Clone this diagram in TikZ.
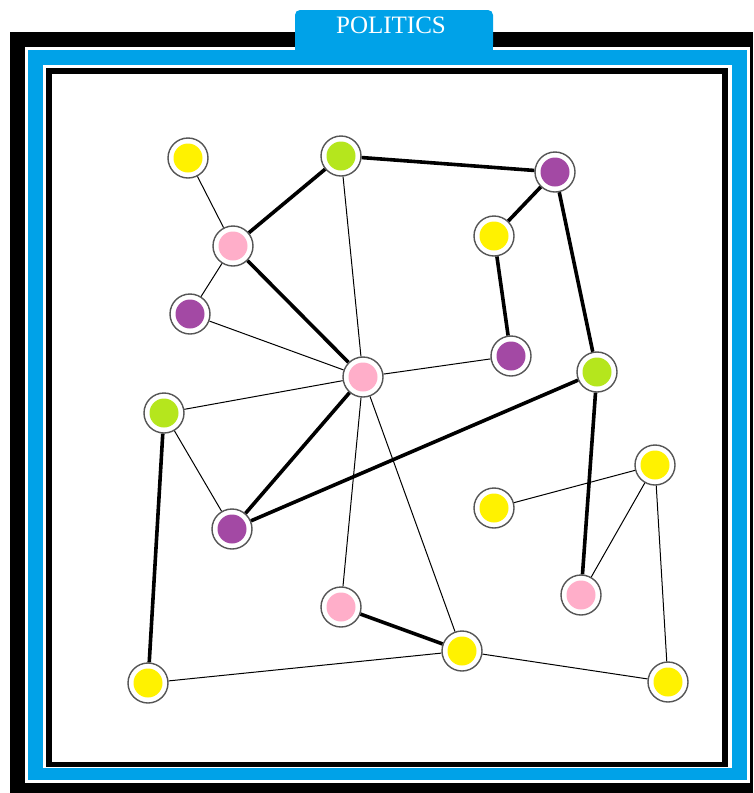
\documentclass[tikz,border=0pt]{standalone}
\usepackage{fontspec}
\setmainfont{Liberation Serif}
\definecolor{pblue}{RGB}{0,162,232}
\definecolor{pyellow}{RGB}{255,242,0}
\definecolor{pgreen}{RGB}{181,230,29}
\definecolor{ppurple}{RGB}{163,73,164}
\definecolor{ppink}{RGB}{255,174,201}
\definecolor{ringgray}{RGB}{85,85,85}
\tikzset{
  vtx/.style={circle, draw=ringgray, line width=1.4pt, fill=white, minimum size=40pt, inner sep=0pt,
    path picture={\fill[#1] (path picture bounding box.center) circle (14.5pt);}},
  thinedge/.style={line width=1pt, black},
  thickedge/.style={line width=3.6pt, black},
  tab/.style={fill=pblue, rounded corners=5pt}
}
\begin{document}
\begin{tikzpicture}[x=1pt,y=-1pt]
\useasboundingbox (0,0) rectangle (753,793);
% frame
\fill[white] (0,0) rectangle (753,793);
\fill[black] (10,32) rectangle (753,793);
\fill[white] (25,47) rectangle (750,783);
\fill[pblue] (28,50) rectangle (747,780);
\fill[white] (43,65) rectangle (732,768);
\fill[black] (46,68) rectangle (728,767);
\fill[white] (52,74) rectangle (722,762);
% title tab
\fill[tab] (295,10) rectangle (493,50);
\fill[pblue] (295,40) rectangle (493,50);
\node[text=white, font=\fontsize{25}{25}\selectfont, inner sep=0pt] (title) at (391,25) {POLITICS};
% vertices
\node[vtx=pyellow] (n1) at (188,158) {};
\node[vtx=pgreen] (n2) at (341,156) {};
\node[vtx=ppurple] (n3) at (555,172) {};
\node[vtx=ppink] (n4) at (233,246) {};
\node[vtx=pyellow] (n5) at (494,236) {};
\node[vtx=ppurple] (n6) at (190,314) {};
\node[vtx=ppurple] (n7) at (511,356) {};
\node[vtx=ppink] (n8) at (363,377) {};
\node[vtx=pgreen] (n9) at (597,372) {};
\node[vtx=pgreen] (n10) at (164,413) {};
\node[vtx=pyellow] (n11) at (655,465) {};
\node[vtx=pyellow] (n12) at (494,508) {};
\node[vtx=ppurple] (n13) at (232,529) {};
\node[vtx=ppink] (n14) at (341,607) {};
\node[vtx=ppink] (n15) at (581,595) {};
\node[vtx=pyellow] (n16) at (462,651) {};
\node[vtx=pyellow] (n17) at (148,683) {};
\node[vtx=pyellow] (n18) at (668,682) {};
% thin edges
\foreach \a/\b in {n1/n4, n4/n6, n6/n8, n2/n8, n8/n7, n8/n10, n10/n13, n8/n14, n8/n16, n12/n11, n11/n15, n11/n18, n17/n16, n16/n18}
  \draw[thinedge] (\a) -- (\b);
% thick edges
\foreach \a/\b in {n2/n4, n4/n8, n2/n3, n3/n5, n5/n7, n3/n9, n9/n13, n13/n8, n9/n15, n10/n17, n14/n16}
  \draw[thickedge] (\a) -- (\b);
\end{tikzpicture}
\end{document}
